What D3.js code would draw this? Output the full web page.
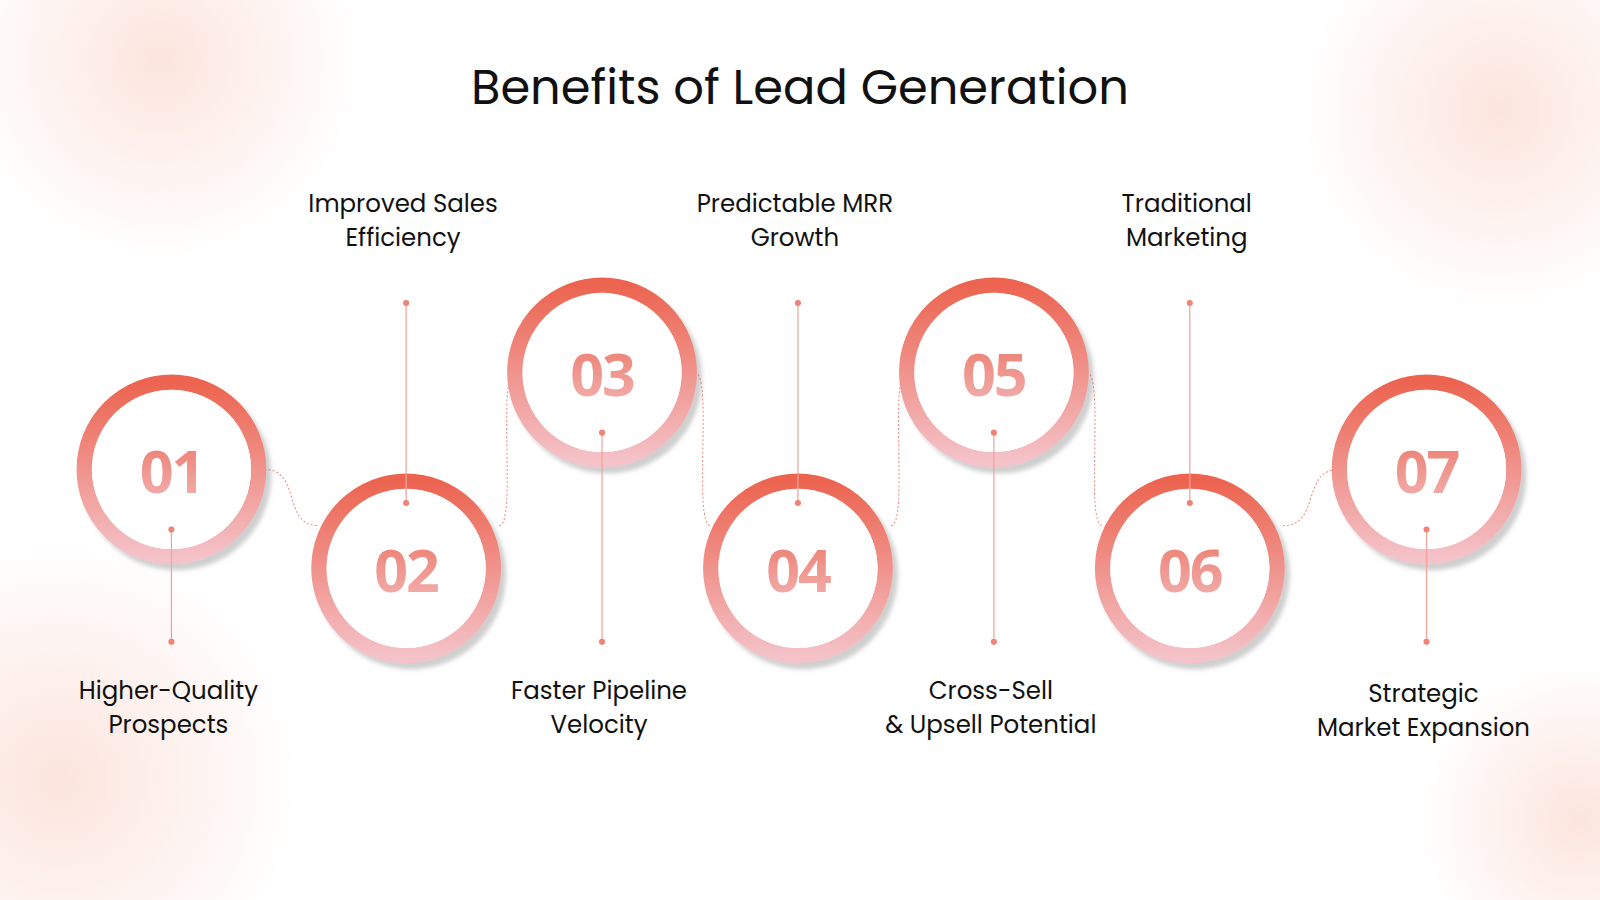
<!DOCTYPE html>
<html><head><meta charset="utf-8">
<script src="https://cdn.jsdelivr.net/npm/d3@7"></script>
<style>body{margin:0;background:#fff}</style>
</head><body>
<script>
const width = 1600, height = 900;

// Data
const numbers = ["01", "02", "03", "04", "05", "06", "07"];
const levels = ["mid", "low", "high", "low", "high", "low", "mid"];
const labels = [
  ["Higher-Quality", "Prospects"],
  ["Improved Sales", "Efficiency"],
  ["Faster Pipeline", "Velocity"],
  ["Predictable MRR", "Growth"],
  ["Cross-Sell", "& Upsell Potential"],
  ["Traditional", "Marketing"],
  ["Strategic", "Market Expansion"]
];
const labelSide = ["bottom", "top", "bottom", "top", "bottom", "top", "bottom"];

const x = d3.scaleLinear().domain([0, 1, 5, 6]).range([168, 398, 1166, 1398]);
const y = d3.scaleOrdinal().domain(["high", "mid", "low"]).range([365, 460, 557]);
const R = 93, ring = 15;
const stemTop = 297, stemBottom = 629;

const root = d3.select("body").append("svg").attr("width", width).attr("height", height)
  .style("font-family", "Poppins, 'Open Sans', sans-serif");
const defs = root.append("defs");

// soft background blobs
const bg = defs.append("radialGradient").attr("id", "blob");
bg.append("stop").attr("offset", "0%").attr("stop-color", "#fbd9cf").attr("stop-opacity", 0.7);
bg.append("stop").attr("offset", "100%").attr("stop-color", "#fbd9cf").attr("stop-opacity", 0);
[[160, 60, 200], [1500, 110, 200], [60, 780, 240], [1580, 820, 160]].forEach(([cx, cy, r]) =>
  root.append("circle").attr("cx", cx).attr("cy", cy).attr("r", r).attr("fill", "url(#blob)"));

// reference coordinates were read at 1568px wide
const svg = root.append("g").attr("transform", `scale(${1600 / 1568})`);

const rg = defs.append("linearGradient").attr("id", "ring").attr("x1", 0).attr("y1", 0).attr("x2", 0).attr("y2", 1);
rg.append("stop").attr("offset", "0%").attr("stop-color", "#ec6450");
rg.append("stop").attr("offset", "100%").attr("stop-color", "#f4c2c8");
const tg = defs.append("linearGradient").attr("id", "txt").attr("x1", 0).attr("y1", 0).attr("x2", 0).attr("y2", 1);
tg.append("stop").attr("offset", "0%").attr("stop-color", "#ec7565");
tg.append("stop").attr("offset", "100%").attr("stop-color", "#f2b7b8");
const sh = defs.append("filter").attr("id", "sh").attr("x", "-20%").attr("y", "-20%").attr("width", "150%").attr("height", "150%");
sh.append("feDropShadow").attr("dx", 5).attr("dy", 6).attr("stdDeviation", 2).attr("flood-color", "#777").attr("flood-opacity", 0.35);

svg.append("text").attr("x", 784).attr("y", 102).attr("text-anchor", "middle")
  .attr("font-size", 47).attr("fill", "#111").text("Benefits of Lead Generation");

// dotted connectors
for (let i = 0; i < numbers.length - 1; i++) {
  const x0 = x(i), y0 = y(levels[i]), x1 = x(i + 1), y1 = y(levels[i + 1]);
  const sx = x0 + R * 0.98, sy = y0 + (y1 > y0 ? 0 : -R * 0.45);
  const ex = x1 - R * 0.92, ey = y1 + (y1 > y0 ? -R * 0.45 : 0);
  const mx = (sx + ex) / 2;
  svg.append("path")
    .attr("d", `M${sx},${sy} C${mx + 10},${sy} ${mx - 10},${ey} ${ex},${ey}`)
    .attr("fill", "none").attr("stroke", "#ee8c80").attr("stroke-width", 1)
    .attr("stroke-dasharray", "2,2");
}

const g = svg.selectAll("g.item").data(numbers).join("g").attr("class", "item")
  .attr("transform", (d, i) => `translate(${x(i)},${y(levels[i])})`);

g.append("circle").attr("r", R - ring / 2).attr("fill", "none")
  .attr("stroke", "url(#ring)").attr("stroke-width", ring).attr("filter", "url(#sh)");
g.append("circle").attr("r", R - ring).attr("fill", "#fff");
g.append("text").attr("text-anchor", "middle").attr("y", 23).attr("font-size", 58)
  .attr("font-weight", 700).attr("fill", "url(#txt)").attr("font-family", "'Open Sans', sans-serif")
  .attr("letter-spacing", -2).text(d => d);

// stems
g.each(function (d, i) {
  const s = d3.select(this);
  const cy = y(levels[i]);
  const top = labelSide[i] === "top";
  const a = top ? -64 : 59, b = top ? stemTop - cy : stemBottom - cy;
  s.append("line").attr("x1", 0).attr("x2", 0).attr("y1", a).attr("y2", b)
    .attr("stroke", "#f0a39a").attr("stroke-width", 1.2);
  s.append("circle").attr("cy", a).attr("r", 3).attr("fill", "#ee8478");
  s.append("circle").attr("cy", b).attr("r", 3).attr("fill", "#ee8478");
});

// labels
labels.forEach((lines, i) => {
  const top = labelSide[i] === "top";
  const ly = top ? 208 : (i === 6 ? 688 : 685);
  const t = svg.append("text").attr("x", x(i) - 3).attr("y", ly).attr("text-anchor", "middle")
    .attr("font-size", 24).attr("fill", "#111");
  lines.forEach((l, k) => t.append("tspan").attr("x", x(i) - 3).attr("dy", k ? 33 : 0).text(l));
});
</script>
</body></html>
